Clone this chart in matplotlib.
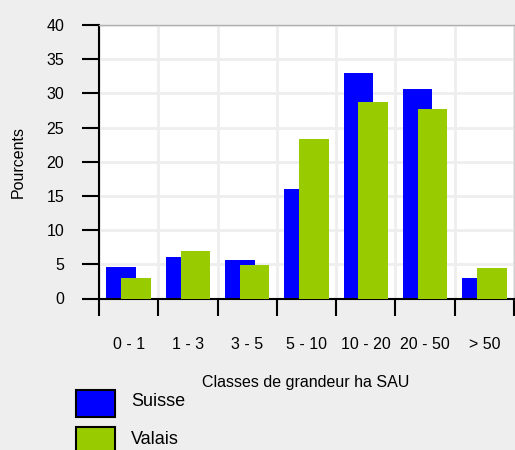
import matplotlib.pyplot as plt
from matplotlib.patches import Rectangle

plt.rcParams['font.family'] = ['Liberation Sans', 'DejaVu Sans']

# data
classes = ['0 - 1', '1 - 3', '3 - 5', '5 - 10', '10 - 20', '20 - 50', '> 50']
suisse = [4.6, 6.1, 5.6, 16.0, 33.0, 30.6, 3.0]
valais = [3.0, 6.9, 4.9, 23.3, 28.7, 27.7, 4.5]
series_names = ['Suisse', 'Valais']
colors = ['#0000ff', '#99cc00']
yticks = [0, 5, 10, 15, 20, 25, 30, 35, 40]

W, H = 515, 450
fig = plt.figure(figsize=(W / 100, H / 100), dpi=100)
fig.patch.set_facecolor('#eeeeee')
ax = fig.add_axes([99 / W, 1 - 298.5 / H, 415 / W, 273.5 / H])
ax.set_facecolor('white')

centers = [i + 0.5 for i in range(len(classes))]
ax.bar([c - 0.125 for c in centers], suisse, width=0.5, color=colors[0], zorder=2)
ax.bar([c + 0.125 for c in centers], valais, width=0.5, color=colors[1], zorder=3)

ax.set_xlim(0, len(classes))
ax.set_ylim(0, 40)

# grid
ax.set_yticks(yticks)
ax.set_xticks(range(len(classes) + 1))
ax.set_xticklabels([])
ax.grid(True, color='#eeeeee', linewidth=2, zorder=1)
ax.set_axisbelow(True)

# category labels on minor ticks
ax.set_xticks(centers, minor=True)
ax.set_xticklabels(classes, minor=True, fontsize=11.5)
ax.tick_params(axis='x', which='minor', length=0, pad=28)
ax.tick_params(axis='x', which='major', direction='out', length=12, width=1.5, color='black')
ax.tick_params(axis='y', direction='out', length=12, width=1.5, color='black', labelsize=11.5, pad=13)

for s in ['left', 'bottom']:
    ax.spines[s].set_linewidth(1.5)
    ax.spines[s].set_color('black')
ax.spines['top'].set_color('#b0b0b0')
ax.spines['top'].set_linewidth(1)
ax.spines['right'].set_color('#d0d0d0')
ax.spines['right'].set_linewidth(1)

fig.text(18 / W, 1 - 162 / H, 'Pourcents', rotation=90, ha='center', va='center', fontsize=11.5)
fig.text(306 / W, 1 - 382 / H, 'Classes de grandeur ha SAU', ha='center', va='center', fontsize=11.5)

# legend
for k, name in enumerate(series_names):
    top = 390 + k * 37
    fig.add_artist(Rectangle((76 / W, 1 - (top + 27) / H), 39 / W, 27 / H,
                             transform=fig.transFigure, facecolor=colors[k],
                             edgecolor='black', linewidth=1.5))
    fig.text(131 / W, 1 - (top + 12) / H, name, ha='left', va='center', fontsize=13)

fig.savefig('out.png', dpi=100, facecolor=fig.get_facecolor())
